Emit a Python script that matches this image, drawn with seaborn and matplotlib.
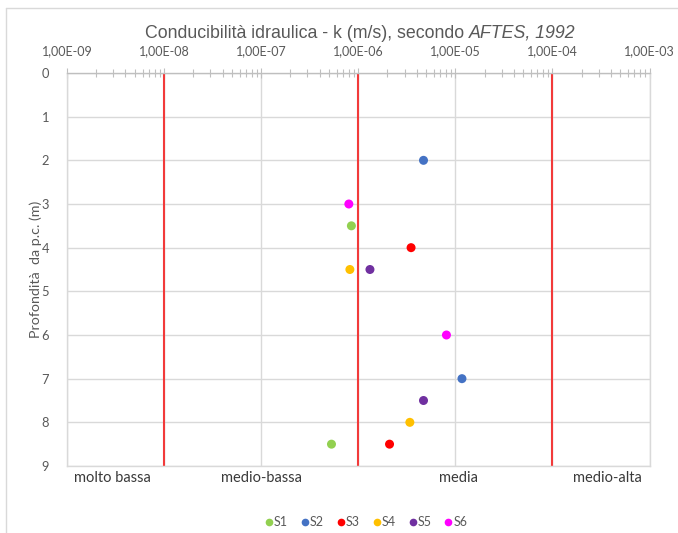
import numpy as np
import pandas as pd
import matplotlib
matplotlib.use("Agg")
import matplotlib.pyplot as plt
from matplotlib.ticker import FixedLocator, FuncFormatter, LogLocator, NullFormatter
from matplotlib.lines import Line2D
import seaborn as sns

# ---- data ----
series = ["S1", "S2", "S3", "S4", "S5", "S6"]
s1_k = [8.5e-7, 5.3e-7];      s1_z = [3.5, 8.5]
s2_k = [4.7e-6, 1.17e-5];     s2_z = [2.0, 7.0]
s3_k = [3.5e-6, 2.1e-6];      s3_z = [4.0, 8.5]
s4_k = [8.2e-7, 3.4e-6];      s4_z = [4.5, 8.0]
s5_k = [1.32e-6, 4.7e-6];     s5_z = [4.5, 7.5]
s6_k = [8.0e-7, 8.1e-6];      s6_z = [3.0, 6.0]
colors = ["#92D050", "#4472C4", "#FF0000", "#FFC000", "#7030A0", "#FF00FF"]
boundaries = [1e-8, 1e-6, 1e-4]
decades = [1e-9, 1e-8, 1e-7, 1e-6, 1e-5, 1e-4, 1e-3]
tick_labels = ["1,00E-09", "1,00E-08", "1,00E-07", "1,00E-06", "1,00E-05", "1,00E-04", "1,00E-03"]
depth_ticks = list(range(0, 10))
classes = ["molto bassa", "medio-bassa", "media", "medio-alta"]
title_main = "Conducibilità idraulica - k (m/s), secondo "
title_ital = "AFTES, 1992"
ylabel = "Profondità  da p.c. (m)"

ks = [s1_k, s2_k, s3_k, s4_k, s5_k, s6_k]
zs = [s1_z, s2_z, s3_z, s4_z, s5_z, s6_z]
rows = []
for name, kk, zz in zip(series, ks, zs):
    for k, z in zip(kk, zz):
        rows.append({"serie": name, "k": k, "z": z})
df = pd.DataFrame(rows)

sns.set_style("white")
plt.rcParams["font.family"] = ["Lato", "DejaVu Sans"]

W, H = 678, 533
fig = plt.figure(figsize=(W / 100, H / 100), dpi=100)
L, R, T, B = 67, 649.5, 73, 466
ax = fig.add_axes([L / W, 1 - B / H, (R - L) / W, (B - T) / H])

grid_c = "#D9D9D9"
ax.set_xscale("log")
ax.set_xlim(decades[0], decades[-1])
ax.set_ylim(9, 0)

for d in decades:
    ax.axvline(d, color=grid_c, lw=1, zorder=0)
for y in depth_ticks:
    ax.axhline(y, color=grid_c, lw=1, zorder=0)
for b in boundaries:
    ax.axvline(b, color="#F23A3A", lw=1.5, zorder=1)

sns.scatterplot(data=df, x="k", y="z", hue="serie", hue_order=series,
                palette=colors, s=42, edgecolor="none", ax=ax, zorder=3)

ax.xaxis.tick_top()
ax.xaxis.set_label_position("top")
ax.xaxis.set_major_locator(FixedLocator(decades))
ax.set_xticklabels(tick_labels)
ax.xaxis.set_minor_locator(LogLocator(base=10, subs=np.arange(2, 10)))
ax.xaxis.set_minor_formatter(NullFormatter())
ax.tick_params(axis="x", which="major", top=True, bottom=False, direction="inout",
               length=7, width=0.8, color="#BFBFBF", labelsize=9, labelcolor="#595959", pad=8)
ax.tick_params(axis="x", which="minor", top=True, bottom=False, direction="inout",
               length=6, width=0.8, color="#BFBFBF")
ax.set_yticks(depth_ticks)
ax.set_yticklabels([str(v) for v in depth_ticks])
ax.tick_params(axis="y", length=0, labelsize=9.3, labelcolor="#595959", pad=13)
ax.set_xlabel("")
ax.set_ylabel(ylabel, fontsize=10.3, color="#595959", labelpad=-0.5)

for side, sp in ax.spines.items():
    sp.set_color(grid_c)
    sp.set_linewidth(1)
ax.spines["top"].set_color("#BFBFBF")

# class labels under the axis
class_px = [112, 261, 458, 607]
for txt, px in zip(classes, class_px):
    ax.text((px - L) / (R - L), (B - 478) / (B - T), txt, transform=ax.transAxes,
            ha="center", va="center", fontsize=10.5, color="#3A3A3A")

# legend
sns.move_legend(ax, "center", bbox_to_anchor=((366 - L) / (R - L), (B - 522) / (B - T)),
                ncol=6, frameon=False, title=None, fontsize=9, handletextpad=0.05,
                columnspacing=1.0, handlelength=0.7, markerscale=0.85)
leg = ax.get_legend()
for t in leg.get_texts():
    t.set_color("#595959")

# title in two parts (regular + italic)
ty = 1 - 33 / H
t1 = fig.text(0.5, ty, title_main, ha="right", va="center", fontsize=12.8, color="#595959",
              family=["Liberation Sans", "DejaVu Sans"])
t2 = fig.text(0.5, ty, title_ital, ha="left", va="center", fontsize=12.8, color="#595959",
              style="italic", family=["Liberation Sans", "DejaVu Sans"])
fig.canvas.draw()
r = fig.canvas.get_renderer()
w1 = t1.get_window_extent(r).width
w2 = t2.get_window_extent(r).width
center = 360
split = center - (w1 + w2) / 2 + w1
t1.set_x(split / W)
t2.set_x(split / W)

# outer frame lines (top and left)
fig.add_artist(Line2D([6 / W, 6 / W], [0, 1 - 8 / H], color="#D9D9D9", lw=1, transform=fig.transFigure))
fig.add_artist(Line2D([6 / W, 1], [1 - 8 / H, 1 - 8 / H], color="#D9D9D9", lw=1, transform=fig.transFigure))

fig.savefig("out.png", dpi=100)
